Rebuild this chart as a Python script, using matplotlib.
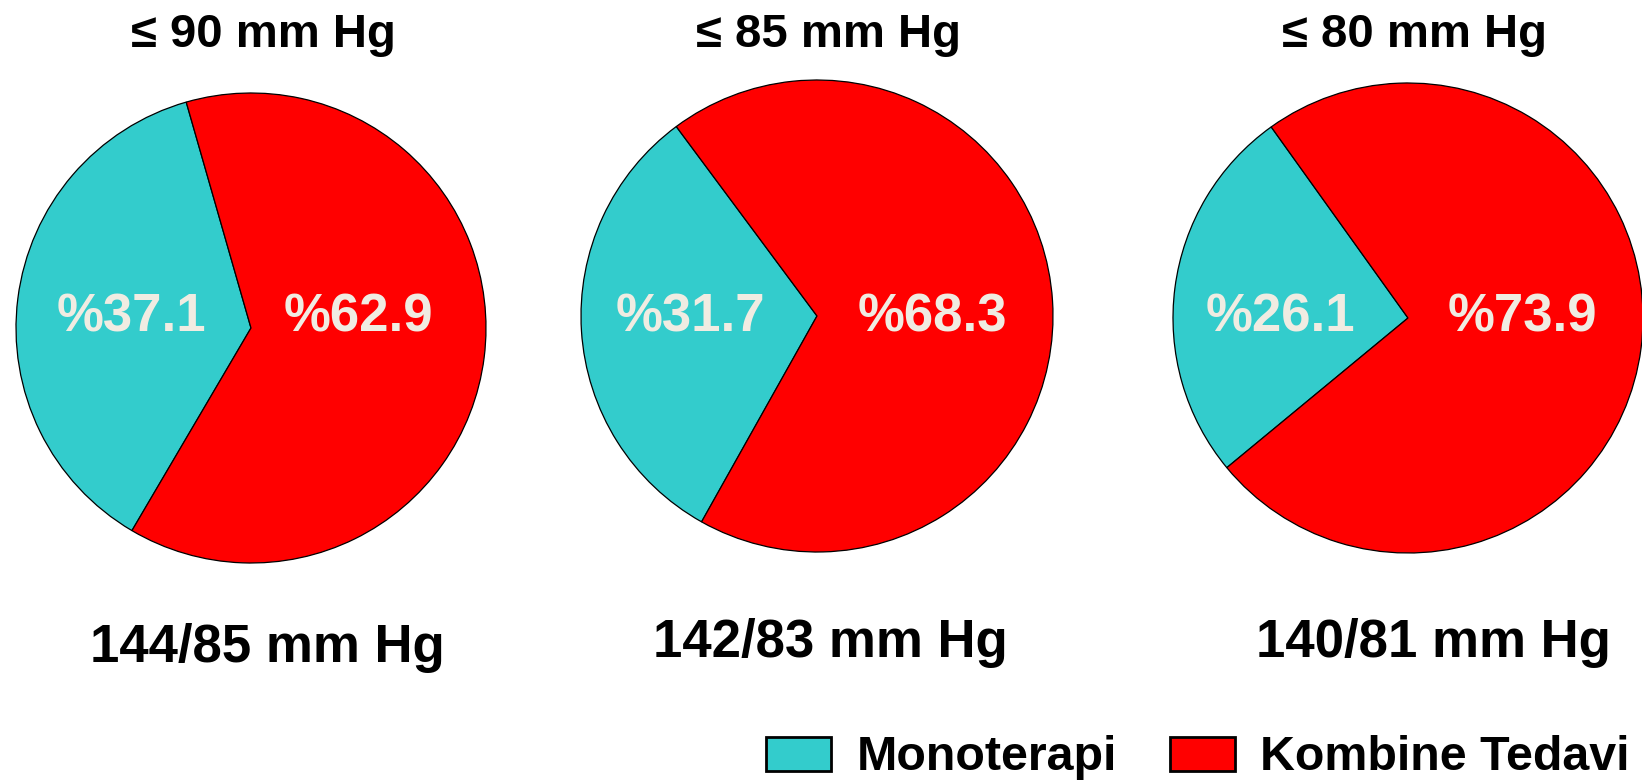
import matplotlib
matplotlib.use("Agg")
import matplotlib.pyplot as plt
from matplotlib.patches import Patch

# data
titles = ["\u2264 90 mm Hg", "\u2264 85 mm Hg", "\u2264 80 mm Hg"]
mono = [37.1, 31.7, 26.1]
kombine = [62.9, 68.3, 73.9]
bottom_labels = ["144/85 mm Hg", "142/83 mm Hg", "140/81 mm Hg"]
legend_labels = ["Monoterapi", "Kombine Tedavi"]

# layout (pixel coords, y up)
W, H = 1642, 783
centers = [(251, 455), (817, 467), (1408, 465)]
radii = [235, 236, 235]
start_angles = [106, 126.6, 125.6]
pct_dx = [(-120, 107), (-127, 115), (-128, 114)]
title_x = [263, 828, 1415]
bottom_x = [267, 830, 1433]
bottom_y = [121, 126, 126]

teal = "#33CCCC"
red = "#FF0000"
txt_light = "#F0ECE2"

plt.rcParams["font.family"] = ["Liberation Sans", "DejaVu Sans"]

fig = plt.figure(figsize=(W / 100, H / 100), dpi=100)
ax = fig.add_axes([0, 0, 1, 1])

for i in range(3):
    wedges, _ = ax.pie([mono[i], kombine[i]], colors=[teal, red],
                       center=centers[i], radius=radii[i],
                       startangle=start_angles[i], counterclock=True,
                       wedgeprops=dict(edgecolor="black", linewidth=0.9),
                       frame=True)
    cx, cy = centers[i]
    ax.text(cx + pct_dx[i][0], 451, f"%{mono[i]}", ha="center", va="baseline",
            fontsize=38, fontweight="bold", color=txt_light)
    ax.text(cx + pct_dx[i][1], 451, f"%{kombine[i]}", ha="center", va="baseline",
            fontsize=38, fontweight="bold", color=txt_light)
    ax.text(title_x[i], 736, titles[i], ha="center", va="baseline",
            fontsize=34, fontweight="bold", color="black")
    ax.text(bottom_x[i], bottom_y[i], bottom_labels[i], ha="center", va="baseline",
            fontsize=38, fontweight="bold", color="black")

ax.set_xlim(0, W)
ax.set_ylim(0, H)
ax.set_aspect("equal")
ax.axis("off")

handles = [Patch(facecolor=teal, edgecolor="black", linewidth=2),
           Patch(facecolor=red, edgecolor="black", linewidth=2)]
leg = ax.legend(handles, legend_labels, loc="center right", ncol=2, frameon=False,
                bbox_to_anchor=(1630, 25), bbox_transform=ax.transData,
                prop=dict(weight="bold", size=34.8),
                handlelength=1.35, handleheight=0.7, handletextpad=0.52,
                columnspacing=1.1, borderpad=0, borderaxespad=0)

fig.savefig("out.png", dpi=100)
